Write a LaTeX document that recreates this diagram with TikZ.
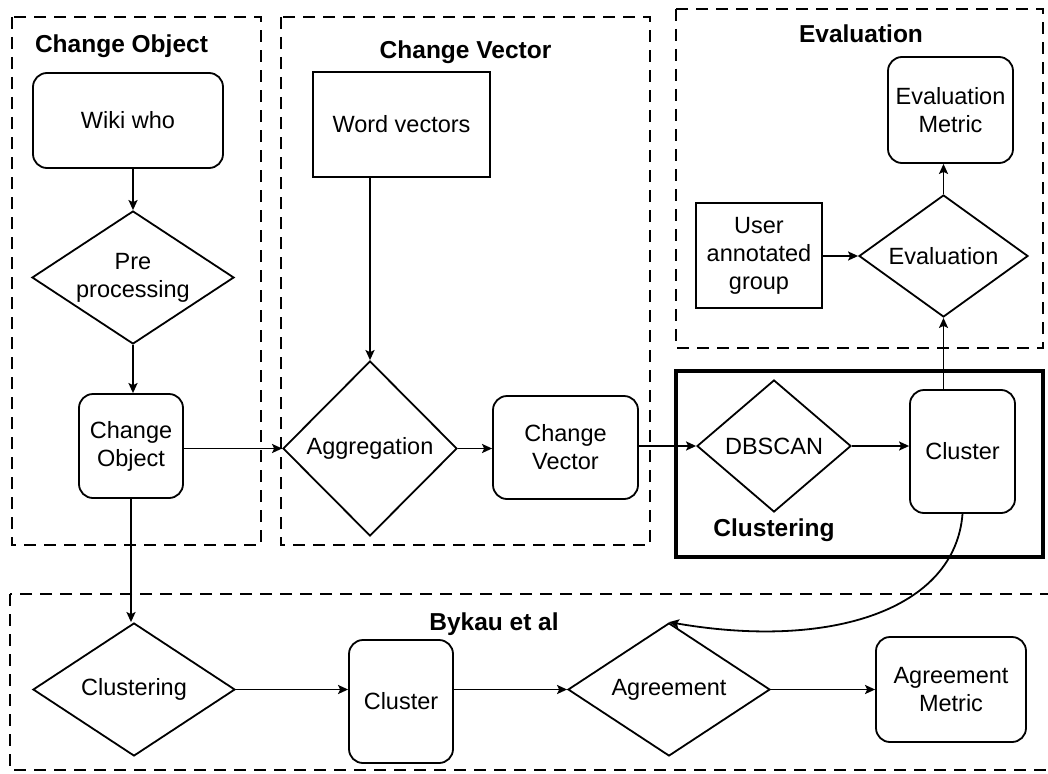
\documentclass[tikz,border=0pt]{standalone}
\usepackage{fontspec}
\setmainfont{Liberation Sans}
\usetikzlibrary{shapes.geometric,arrows.meta,calc}

\begin{document}
\begin{tikzpicture}[x=1pt,y=-1pt,
  every node/.style={font=\fontsize{23.5}{28}\selectfont, align=center, inner sep=0pt},
  base/.style={draw, line width=1.8pt},
  rbox/.style={base, rounded corners=14pt},
  sbox/.style={base},
  dia/.style={base, diamond, aspect=1.5},
  grp/.style={draw, line width=1.8pt, dash pattern=on 12pt off 8pt},
  solidgrp/.style={draw, line width=3.5pt},
  title/.style={font=\fontsize{24.5}{28}\selectfont\bfseries},
  flow/.style={line width=1.8pt, -{Stealth[length=10pt,width=9pt,inset=2pt]}}
]
\useasboundingbox (0,0) rectangle (1048,773);

% group frames
\draw[grp] (12,17) rectangle (261,545);
\draw[grp] (281,17) rectangle (650,545);
\draw[grp] (676,9) rectangle (1043,348);
\draw[solidgrp] (676,371) rectangle (1043,557);
\draw[grp] (10,594) rectangle (1065,770);

% group titles
\node[title] (tobj) at (121.5,46) {Change Object};
\node[title] (tvec) at (465.5,52) {Change Vector};
\node[title] (teval) at (861,34) {Evaluation};
\node[title] (tclu) at (774,530) {Clustering};
\node[title] (tbyk) at (494,624) {Bykau et al};

% change object column
\node[rbox, minimum width=190pt, minimum height=95pt] (wiki) at (128,120.5) {Wiki who};
\node[dia, minimum width=202pt, minimum height=133pt] (pre) at (133,277.5) {Pre\\processing};
\node[rbox, minimum width=104pt, minimum height=104pt] (chobj) at (131,446) {Change\\Object};

% change vector column
\node[sbox, minimum width=177pt, minimum height=105pt] (wordvec) at (401.5,124.5) {Word vectors};
\node[dia, minimum width=174pt, minimum height=175pt] (agg) at (370,448.5) {Aggregation};
\node[rbox, minimum width=145pt, minimum height=103pt] (chvec) at (565.5,447.5) {Change\\Vector};

% evaluation
\node[rbox, minimum width=125pt, minimum height=106pt] (evmet) at (950.5,110) {Evaluation\\Metric};
\node[dia, minimum width=169pt, minimum height=122pt] (evdia) at (943.5,256) {Evaluation};
\node[sbox, minimum width=126pt, minimum height=105pt] (user) at (759,255.5) {User\\annotated\\group};

% clustering
\node[dia, minimum width=154pt, minimum height=132pt] (dbscan) at (774,446) {DBSCAN};
\node[rbox, minimum width=105pt, minimum height=123pt] (clu) at (962.5,451.5) {Cluster};

% bykau et al
\node[dia, minimum width=202pt, minimum height=133pt] (bclu) at (134,689.5) {Clustering};
\node[rbox, minimum width=104pt, minimum height=123pt] (bcluster) at (401,701.5) {Cluster};
\node[dia, minimum width=202pt, minimum height=133pt] (agr) at (669,689.5) {Agreement};
\node[rbox, minimum width=150pt, minimum height=105pt] (agrmet) at (951,689.5) {Agreement\\Metric};

% connectors
\draw[flow] (pre.north |- wiki.south) -- (pre.north);
\draw[flow] (pre.south) -- (pre.south |- chobj.north);
\draw[flow] (chobj.east |- agg.west) -- (agg.west);
\draw[flow] (agg.north |- wordvec.south) -- (agg.north);
\draw[flow] (agg.east) -- (agg.east -| chvec.west);
\draw[flow] (chvec.east |- dbscan.west) -- (dbscan.west);
\draw[flow] (dbscan.east) -- (dbscan.east -| clu.west);
\draw[flow] (evdia.south |- clu.north) -- (evdia.south);
\draw[flow] (evdia.north) -- (evdia.north |- evmet.south);
\draw[flow] (user.east |- evdia.west) -- (evdia.west);
\draw[flow] (chobj.south) -- (chobj.south |- bclu.north);
\draw[flow] (bclu.east) -- (bclu.east -| bcluster.west);
\draw[flow] (bcluster.east |- agr.west) -- (agr.west);
\draw[flow] (agr.east) -- (agr.east -| agrmet.west);
\draw[flow] (clu.south) .. controls (955,610) and (830,650) .. (agr.north);
\end{tikzpicture}
\end{document}
